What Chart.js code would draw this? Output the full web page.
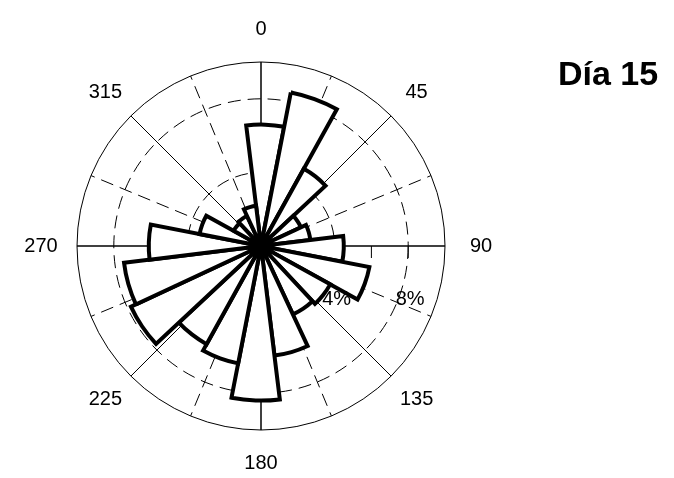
<!DOCTYPE html>
<html>
<head>
<meta charset="utf-8">
<title>Día 15</title>
<script src="https://cdn.jsdelivr.net/npm/chart.js@4.4.0/dist/chart.umd.min.js"></script>
<style>
  html, body { margin: 0; padding: 0; background: #fff; }
  #wrap { position: relative; width: 674px; height: 478px; }
</style>
</head>
<body>
<div id="wrap"><canvas id="roseChart" width="674" height="478"></canvas></div>
<script>
// --- WIND ROSE, DAY 15 ---

// 20 direction bins of 18 deg, centre of each bin (deg, clockwise from north)
const binCenters = [2, 20, 38, 56, 74, 92, 110, 128, 146, 164,
                    182, 200, 218, 236, 254, 272, 290, 308, 326, 344];
// share of observations per bin (%)
const frequency = [6.6, 8.5, 4.8, 2.4, 2.7, 4.5, 6.0, 4.3, 4.1, 6.0,
                   8.4, 6.5, 6.1, 7.8, 7.5, 6.1, 3.4, 1.7, 1.8, 2.2];

const compassAngles = [0, 45, 90, 135, 180, 225, 270, 315];
const compassLabels = ['0', '45', '90', '135', '180', '225', '270', '315'];
const ringValues = [4, 8];
const ringLabels = ['4%', '8%'];
const axisTicks = [2, 4, 6, 8];
const maxValue = 10;
const dayTitle = 'Día 15';

const FONT = "'Liberation Sans', Arial, Helvetica, sans-serif";
const binWidth = 360 / binCenters.length;

Chart.defaults.font.family = FONT;
Chart.defaults.color = '#000';

function toRad(deg) {
  // compass degrees -> canvas radians
  return (deg - 90) * Math.PI / 180;
}

// grid: spokes, dashed rings, outer circle
const polarGrid = {
  id: 'polarGrid',
  beforeDatasetsDraw(chart) {
    const scale = chart.scales.r;
    const ctx = chart.ctx;
    const cx = scale.xCenter;
    const cy = scale.yCenter;
    const R = scale.getDistanceFromCenterForValue(maxValue);

    ctx.save();
    ctx.strokeStyle = '#000';

    for (let a = 0; a < 360; a += 22.5) {
      const major = a % 45 === 0;
      ctx.lineWidth = a % 90 === 0 ? 1.5 : 1;
      ctx.setLineDash(major ? [] : [13, 7]);
      ctx.beginPath();
      ctx.moveTo(cx, cy);
      ctx.lineTo(cx + R * Math.cos(toRad(a)), cy + R * Math.sin(toRad(a)));
      ctx.stroke();
    }

    ctx.lineWidth = 1;
    ctx.setLineDash([13, 7]);
    ringValues.forEach(v => {
      ctx.beginPath();
      ctx.arc(cx, cy, scale.getDistanceFromCenterForValue(v), 0, Math.PI * 2);
      ctx.stroke();
    });

    ctx.setLineDash([]);
    ctx.beginPath();
    ctx.arc(cx, cy, R, 0, Math.PI * 2);
    ctx.stroke();

    // small ticks under the east axis
    axisTicks.forEach(v => {
      const x = cx + scale.getDistanceFromCenterForValue(v);
      ctx.beginPath();
      ctx.moveTo(x, cy);
      ctx.lineTo(x, cy + 12);
      ctx.stroke();
    });
    ctx.restore();
  },
  afterDatasetsDraw(chart) {
    const scale = chart.scales.r;
    const ctx = chart.ctx;
    const cx = scale.xCenter;
    const cy = scale.yCenter;
    const R = scale.getDistanceFromCenterForValue(maxValue);

    ctx.save();
    ctx.fillStyle = '#000';
    ctx.textAlign = 'center';
    ctx.textBaseline = 'middle';
    ctx.font = '20px ' + FONT;

    // direction labels sit a little wider than tall around the circle
    const labelRx = R + 36;
    const labelRy = R + 33;
    compassAngles.forEach((a, i) => {
      ctx.fillText(compassLabels[i], cx + labelRx * Math.cos(toRad(a)), cy + labelRy * Math.sin(toRad(a)));
    });

    ringValues.forEach((v, i) => {
      ctx.fillText(ringLabels[i], cx + scale.getDistanceFromCenterForValue(v) + 2, cy + 53);
    });

    ctx.font = 'bold 34px ' + FONT;
    ctx.fillText(dayTitle, 608, 76);
    ctx.restore();
  }
};

const ctx = document.getElementById('roseChart').getContext('2d');

new Chart(ctx, {
  type: 'polarArea',
  data: {
    labels: binCenters.map(String),
    datasets: [{
      data: frequency,
      backgroundColor: '#ffffff',
      borderColor: '#000000',
      borderWidth: 4,
      borderJoinStyle: 'miter'
    }]
  },
  options: {
    responsive: false,
    maintainAspectRatio: false,
    animation: false,
    layout: { padding: { left: 77, right: 229, top: 62, bottom: 48 } },
    plugins: {
      legend: { display: false },
      tooltip: { enabled: false }
    },
    scales: {
      r: {
        min: 0,
        max: maxValue,
        startAngle: binCenters[0] - binWidth / 2,
        ticks: { display: false },
        grid: { display: false },
        angleLines: { display: false },
        pointLabels: { display: false }
      }
    }
  },
  plugins: [polarGrid]
});
</script>
</body>
</html>
